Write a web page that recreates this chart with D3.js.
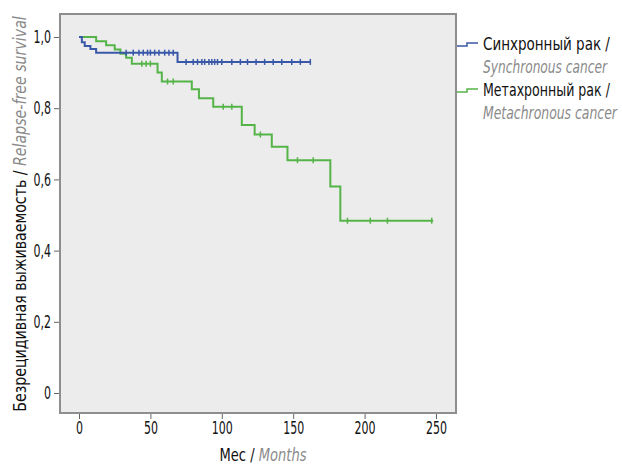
<!DOCTYPE html>
<html>
<head>
<meta charset="utf-8">
<script src="https://cdn.jsdelivr.net/npm/d3@7"></script>
<style>
  body { margin: 0; background: #fff; }
  svg text { font-family: "DejaVu Sans Condensed", "DejaVu Sans", sans-serif; }
  .tick text { font-size: 18px; fill: #111; }
  .tick line { stroke: #666; }
</style>
</head>
<body>
<svg id="chart"></svg>
<script>
// Kaplan-Meier steps
const syncTimes = [0, 2, 4, 8, 12, 69, 162];
const syncSurv = [1.0, 0.985, 0.975, 0.966, 0.956, 0.93, 0.93];
const syncCensor = [33, 38, 42, 45, 48, 50, 53, 56, 60, 63, 66, 75, 80, 83, 86, 88, 91, 93, 95, 97, 100, 107, 113, 118, 124, 130, 136, 142, 149, 155, 162];

const metaTimes = [0, 12, 19, 25, 29, 33, 37, 55, 58, 79, 84, 94, 114, 123, 135, 146, 176, 183, 248];
const metaSurv = [1.0, 0.988, 0.977, 0.965, 0.953, 0.942, 0.925, 0.9, 0.875, 0.853, 0.828, 0.804, 0.753, 0.726, 0.692, 0.654, 0.58, 0.484, 0.484];
const metaCensor = [44, 47, 50, 62, 66, 101, 107, 127, 153, 164, 188, 204, 216, 247];

const xTicks = [0, 50, 100, 150, 200, 250];
const yTicks = [0, 0.2, 0.4, 0.6, 0.8, 1.0];
const yTickLabels = ["0", "0,2", "0,4", "0,6", "0,8", "1,0"];

const legendRu = ["Синхронный рак /", "Метахронный рак /"];
const legendEn = ["Synchronous cancer", "Metachronous cancer"];
const colors = ["#3a58a8", "#55b448"];

const width = 622, height = 466;
const frame = { left: 60, top: 14, right: 456, bottom: 413 };

const svg = d3.select("#chart").attr("width", width).attr("height", height);

// the original uses a condensed face; squeeze DejaVu horizontally to a target width
function squeezed(transform, anchor, size, parts, targetWidth) {
  const g = svg.append("g");
  const t = g.append("text")
    .attr("text-anchor", anchor)
    .style("font-size", size + "px");
  parts.forEach(p => {
    t.append("tspan")
      .attr("fill", p.color)
      .style("font-style", p.italic ? "italic" : "normal")
      .text(p.text);
  });
  const k = targetWidth / t.node().getComputedTextLength();
  g.attr("transform", `${transform} scale(${k},1)`);
  return g;
}

const x = d3.scaleLinear().domain([0, 250]).range([79, 436]);
const y = d3.scaleLinear().domain([0, 1]).range([393, 37]);

svg.append("rect")
  .attr("x", frame.left).attr("y", frame.top)
  .attr("width", frame.right - frame.left)
  .attr("height", frame.bottom - frame.top)
  .attr("fill", "#ececec")
  .attr("stroke", "#8e8e8e")
  .attr("stroke-width", 2);

function condenseTicks(sel, k) {
  sel.each(function () {
    const w = this.getComputedTextLength();
    d3.select(this).attr("textLength", w * k).attr("lengthAdjust", "spacingAndGlyphs");
  });
}

const xAxis = svg.append("g")
  .attr("transform", `translate(0,${frame.bottom + 1})`)
  .call(d3.axisBottom(x).tickValues(xTicks).tickSize(5).tickSizeOuter(0).tickPadding(2))
  .call(g => g.select(".domain").remove());
condenseTicks(xAxis.selectAll(".tick text"), 0.68);

const yAxis = svg.append("g")
  .attr("transform", `translate(${frame.left - 1},0)`)
  .call(d3.axisLeft(y).tickValues(yTicks).tickSize(5).tickSizeOuter(0).tickPadding(3)
    .tickFormat((d, i) => yTickLabels[i]))
  .call(g => g.select(".domain").remove());
condenseTicks(yAxis.selectAll(".tick text"), 0.68);

const line = d3.line()
  .x(d => x(d[0]))
  .y(d => y(d[1]))
  .curve(d3.curveStepAfter);

function survAt(times, surv, t) {
  let s = surv[0];
  times.forEach((tt, i) => { if (tt <= t) s = surv[i]; });
  return s;
}

const series = [
  { times: syncTimes, surv: syncSurv, censor: syncCensor, color: colors[0] },
  { times: metaTimes, surv: metaSurv, censor: metaCensor, color: colors[1] }
];

// green first so blue sits on top
series.slice().reverse().forEach(s => {
  const pts = s.times.map((t, i) => [t, s.surv[i]]);
  svg.append("path")
    .datum(pts)
    .attr("fill", "none")
    .attr("stroke", s.color)
    .attr("stroke-width", 2)
    .attr("d", line);

  svg.selectAll(null)
    .data(s.censor)
    .enter()
    .append("line")
    .attr("x1", d => x(d)).attr("x2", d => x(d))
    .attr("y1", d => y(survAt(s.times, s.surv, d)) - 3)
    .attr("y2", d => y(survAt(s.times, s.surv, d)) + 3)
    .attr("stroke", s.color)
    .attr("stroke-width", 1.5);
});

// legend
const ruWidths = [127, 127];
const enWidths = [124, 134];
legendRu.forEach((label, i) => {
  const top = 44 + i * 46;
  svg.append("path")
    .attr("d", `M457,${top + 2}H467V${top - 1}H478`)
    .attr("fill", "none")
    .attr("stroke", colors[i])
    .attr("stroke-width", 1.5);
  squeezed(`translate(483,${top + 6})`, "start", 17,
    [{ text: label, color: "#111" }], ruWidths[i]);
  squeezed(`translate(483,${top + 29})`, "start", 17,
    [{ text: legendEn[i], color: "#8a8a8a", italic: true }], enWidths[i]);
});

// axis titles
squeezed("translate(263,461)", "middle", 18, [
  { text: "Мес / ", color: "#111" },
  { text: "Months", color: "#8a8a8a", italic: true }
], 87);

squeezed("translate(26,214) rotate(-90)", "middle", 18, [
  { text: "Безрецидивная выживаемость / ", color: "#111" },
  { text: "Relapse-free survival", color: "#8a8a8a", italic: true }
], 396);
</script>
</body>
</html>
